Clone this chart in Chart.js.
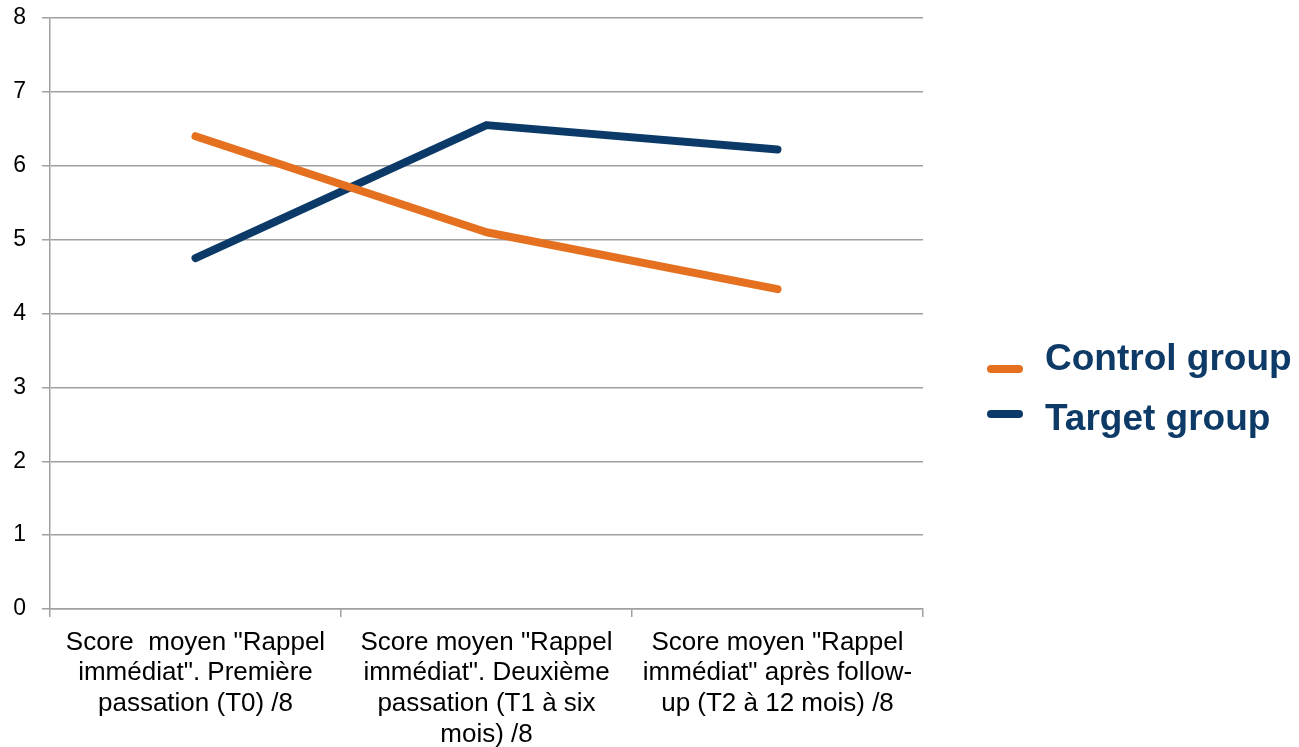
<!DOCTYPE html>
<html>
<head>
<meta charset="utf-8">
<script src="https://cdn.jsdelivr.net/npm/chart.js@4"></script>
<style>
  body { margin: 0; background: #fff; }
  #wrap { position: relative; width: 1299px; height: 747px; }
  #legend { position: absolute; left: 987px; top: 328px; font-family: "Liberation Sans", Arial, sans-serif;
            font-weight: bold; font-size: 37px; color: #0d3a66; }
  .item { position: relative; height: 60px; line-height: 60px; padding-left: 58px; white-space: nowrap; }
  .swatch { position: absolute; left: 0; width: 36px; height: 8px; border-radius: 4px; }
</style>
</head>
<body>
<div id="wrap">
  <canvas id="chart" width="1299" height="747"></canvas>
  <div id="legend"></div>
</div>
<script>
// Data
const categories = [
    ["Score  moyen \"Rappel", "immédiat\". Première", "passation (T0) /8"],
    ["Score moyen \"Rappel", "immédiat\". Deuxième", "passation (T1 à six", "mois) /8"],
    ["Score moyen \"Rappel", "immédiat\" après follow-", "up (T2 à 12 mois) /8"]
];
const controlScores = [6.4, 5.1, 4.33];
const targetScores = [4.75, 6.55, 6.22];
const seriesNames = ["Control group", "Target group"];
const seriesColors = ["#e5701f", "#0c3a68"];

const gridColor = "#a0a0a0";
const fontFamily = "'Liberation Sans', Arial, sans-serif";

const ctx = document.getElementById("chart").getContext("2d");
const chart = new Chart(ctx, {
    type: "line",
    data: {
        labels: categories,
        datasets: [
            { label: seriesNames[0], data: controlScores },
            { label: seriesNames[1], data: targetScores }
        ].map((d, i) => Object.assign(d, {
            borderColor: seriesColors[i], backgroundColor: seriesColors[i],
            borderWidth: 8, borderCapStyle: "round", borderJoinStyle: "round",
            pointRadius: 0, tension: 0, fill: false
        }))
    },
    options: {
        responsive: false,
        animation: false,
        layout: { padding: { top: 18, right: 376, left: 0, bottom: 0 } },
        plugins: { legend: { display: false }, tooltip: { enabled: false } },
        scales: {
            x: {
                offset: true,
                grid: { offset: true, drawOnChartArea: false, tickLength: 8, color: gridColor, lineWidth: 1.5 },
                border: { color: gridColor, width: 1.5 },
                ticks: { font: { family: fontFamily, size: 26, lineHeight: 1.18 }, color: "#000", padding: 10, maxRotation: 0, autoSkip: false },
                afterFit: s => { s.height = 138; }
            },
            y: {
                min: 0, max: 8,
                grid: { tickLength: 8, color: gridColor, lineWidth: 1.5 },
                border: { color: gridColor, width: 1.5 },
                ticks: { stepSize: 1, font: { family: fontFamily, size: 23 }, color: "#000", padding: 16 },
                // keep the label padding from pushing the plot area down
                afterFit: s => { s.width = 50; s.paddingTop = 12; s.paddingBottom = 12; }
            }
        }
    }
});

// HTML legend (the original's markers sit unevenly against their texts)
const swatchTops = [37, 22];
const legendEl = document.getElementById("legend");
chart.data.datasets.forEach((ds, i) => {
    const item = document.createElement("div");
    item.className = "item";
    const sw = document.createElement("span");
    sw.className = "swatch";
    sw.style.background = ds.borderColor;
    sw.style.top = swatchTops[i] + "px";
    const txt = document.createElement("span");
    txt.textContent = ds.label;
    item.appendChild(sw);
    item.appendChild(txt);
    legendEl.appendChild(item);
});
</script>
</body>
</html>
